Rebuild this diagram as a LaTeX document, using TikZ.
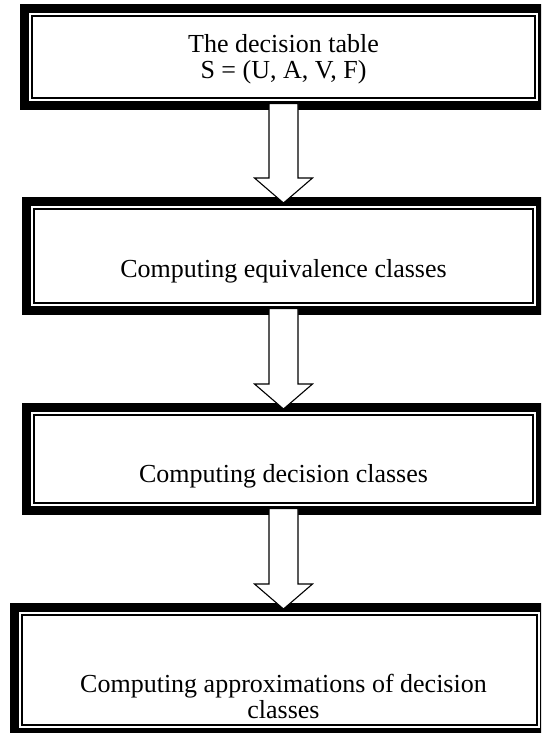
\documentclass[tikz,border=0pt]{standalone}
\usepackage{fontspec}
\setmainfont{Liberation Serif}
\usetikzlibrary{calc}
\tikzset{
  box/.style={draw, line width=9pt, rectangle, outer sep=0pt, inner sep=0pt, fill=white},
  innerline/.style={draw, line width=1.6pt},
  txt/.style={font=\fontsize{26}{26}\selectfont, align=center, inner sep=0pt},
  blockarrow/.style={draw, line width=1.1pt, fill=white, line join=miter},
}
\newcommand\innerbox[1]{\draw[innerline] ([shift={(7.5,7.5)}]#1.north west) rectangle ([shift={(-7.5,-7.5)}]#1.south east);}
\newcommand\blockarr[2]{%
  \coordinate (#1s) at ($(#1.south)+(0,-2)$);
  \coordinate (#1t) at ($(#1.south |- #2.north)+(0,1.5)$);
  \draw[blockarrow] ($(#1s)+(-14.5,0)$) -- ($(#1s)+(14.5,0)$) -- ($(#1t)+(14.5,-25)$) -- ($(#1t)+(29,-25)$) -- (#1t) -- ($(#1t)+(-29,-25)$) -- ($(#1t)+(-14.5,-25)$) -- cycle;}
\begin{document}
\begin{tikzpicture}[x=1pt,y=-1pt]
\useasboundingbox (0,0) rectangle (541,733);
\fill[white] (0,0) rectangle (541,733);
\clip (0,0) rectangle (541,733);
\node[box, minimum width=518pt, minimum height=97pt] (b1) at (283.5,57) {};
\innerbox{b1}
\node[box, minimum width=514pt, minimum height=109pt] (b2) at (283.5,256) {};
\innerbox{b2}
\node[box, minimum width=514pt, minimum height=103pt] (b3) at (283.5,459) {};
\innerbox{b3}
\node[box, minimum width=530pt, minimum height=125pt] (b4) at (279.5,670) {};
\innerbox{b4}
\node[txt] (t1) at (283.5,60.8) {The decision table\strut\\S = (U, A, V, F)\strut};
\node[txt, anchor=base] (t2) at (283.5,277) {Computing equivalence classes};
\node[txt, anchor=base] (t3) at (283.5,482) {Computing decision classes};
\node[txt] (t4) at (283.5,699.8) {Computing approximations of decision\strut\\classes\strut};
\blockarr{b1}{b2}
\blockarr{b2}{b3}
\blockarr{b3}{b4}
\end{tikzpicture}
\end{document}
